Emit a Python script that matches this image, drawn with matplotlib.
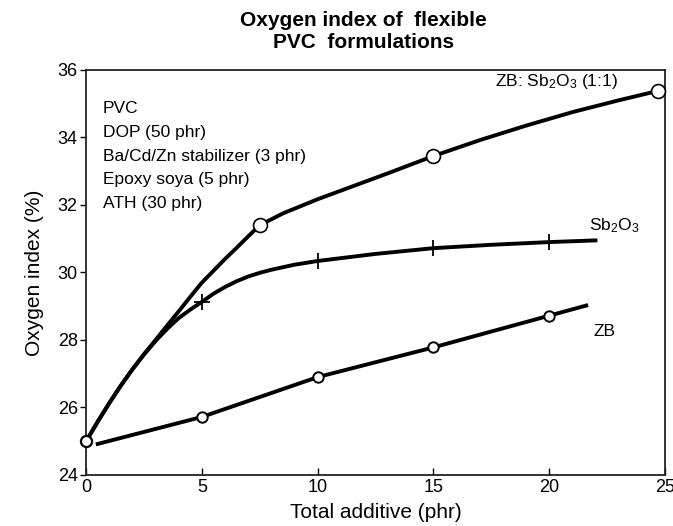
import matplotlib.pyplot as plt

plt.rcParams['font.family'] = ['Liberation Sans', 'DejaVu Sans']
plt.rcParams['mathtext.fontset'] = 'custom'
plt.rcParams['mathtext.rm'] = 'Liberation Sans'
plt.rcParams['mathtext.it'] = 'Liberation Sans:italic'

# measured points (markers)
base_x = [0]
base_y = [25.0]

mix_x = [7.5, 15, 24.7]
mix_y = [31.4, 33.45, 35.38]

sb_x = [5, 10, 15, 20]
sb_y = [29.13, 30.34, 30.72, 30.9]

zb_x = [5, 10, 15, 20]
zb_y = [25.72, 26.9, 27.78, 28.72]

# hand-drawn trend curves
mix_curve_x = [0, 0.5, 1, 1.5, 2, 2.5, 3, 3.5, 4, 4.5, 5, 5.5, 6, 6.5, 7, 7.5,
               8.5, 10, 11.5, 13, 15, 17, 19, 21, 23, 24.7]
mix_curve_y = [25.0, 25.58, 26.13, 26.65, 27.13, 27.58, 28.0, 28.43, 28.85, 29.28,
               29.7, 30.05, 30.4, 30.73, 31.07, 31.4, 31.75, 32.17, 32.55, 32.93,
               33.45, 33.92, 34.35, 34.75, 35.1, 35.38]

sb_curve_x = [0, 0.5, 1, 1.5, 2, 2.5, 3, 3.5, 4, 4.5, 5, 5.5, 6, 6.5, 7, 7.5,
              8, 9, 10, 12.5, 15, 17.5, 20, 22]
sb_curve_y = [25.0, 25.58, 26.13, 26.65, 27.13, 27.57, 27.97, 28.33, 28.65, 28.9,
              29.13, 29.37, 29.57, 29.74, 29.88, 29.99, 30.08, 30.23, 30.34,
              30.55, 30.72, 30.82, 30.9, 30.95]

zb_curve_x = [0.5, 5, 10, 15, 20, 21.6]
zb_curve_y = [24.92, 25.72, 26.9, 27.78, 28.72, 29.02]

formulation = ['PVC', 'DOP (50 phr)', 'Ba/Cd/Zn stabilizer (3 phr)',
               'Epoxy soya (5 phr)', 'ATH (30 phr)']

fig = plt.figure(figsize=(6.73, 5.26), dpi=100)
ax = fig.add_axes([0.128, 0.097, 0.86, 0.77])

lw = 2.8
ax.plot(mix_curve_x, mix_curve_y, color='black', lw=lw, clip_on=False)
ax.plot(sb_curve_x, sb_curve_y, color='black', lw=lw, clip_on=False)
ax.plot(zb_curve_x, zb_curve_y, color='black', lw=lw, clip_on=False)

ax.plot(mix_x, mix_y, 'o', ms=10, mfc='white', mec='black', mew=1.2, clip_on=False, zorder=5)
ax.plot(sb_x, sb_y, '+', ms=11, mec='black', mew=1.3, zorder=5)
ax.plot(zb_x, zb_y, 'o', ms=7.5, mfc='white', mec='black', mew=1.4, zorder=5)
ax.plot(base_x, base_y, 'o', ms=8, mfc='white', mec='black', mew=1.6, clip_on=False, zorder=5)

ax.text(22.97, 35.65, 'ZB: Sb$_2$O$_3$ (1:1)', fontsize=12.5, ha='right', va='center')
ax.text(21.7, 31.4, 'Sb$_2$O$_3$', fontsize=12.5, ha='left', va='center')
ax.text(21.9, 28.25, 'ZB', fontsize=12.5, ha='left', va='center')

for i, line in enumerate(formulation):
    ax.text(0.72, 34.87 - i * 0.71, line, fontsize=12.5, ha='left', va='center')

ax.set_xlim(0, 25)
ax.set_ylim(24, 36)
ax.set_xticks([0, 5, 10, 15, 20, 25])
ax.set_yticks([24, 26, 28, 30, 32, 34, 36])
ax.tick_params(axis='x', direction='in', length=5, width=1, labelsize=13, pad=3)
ax.tick_params(axis='y', direction='out', length=4, width=1, labelsize=13, pad=2)
for s in ax.spines.values():
    s.set_linewidth(1.3)
    s.set_color('#222222')

ax.set_xlabel('Total additive (phr)', fontsize=15, labelpad=5)
ax.set_ylabel('Oxygen index (%)', fontsize=15, labelpad=10)
fig.text(0.54, 1 - 32 / 526, 'Oxygen index of  flexible\nPVC  formulations',
         fontsize=15, fontweight='bold', ha='center', va='center', linespacing=1.2)

plt.savefig('out.png', dpi=100)
